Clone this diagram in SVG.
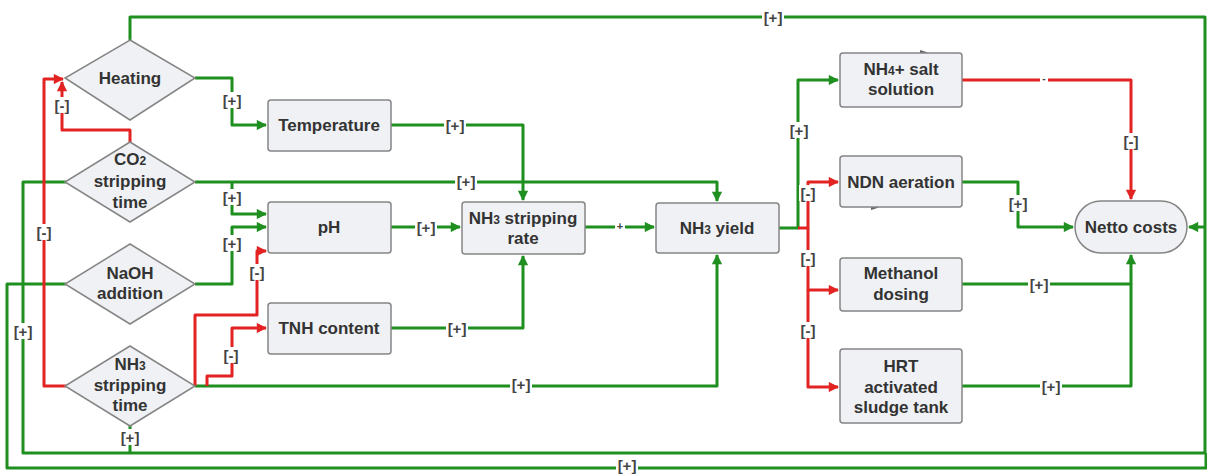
<svg xmlns="http://www.w3.org/2000/svg" width="1207" height="474" viewBox="0 0 1207 474">
<defs>
<style>
.box{fill:#eff1f4;stroke:#858585;stroke-width:1.5}
.t{font-family:"Liberation Sans",Arial,sans-serif;font-weight:bold;font-size:17px;fill:#333;text-anchor:middle}
.s{font-size:12px}
.g{fill:none;stroke:#1f8f1f;stroke-width:3;stroke-linejoin:round}
.r{fill:none;stroke:#e32222;stroke-width:3;stroke-linejoin:round}
.ga{marker-end:url(#ag)}
.ra{marker-end:url(#ar)}
.lb{fill:#fff}
.l{font-family:"Liberation Sans",Arial,sans-serif;font-weight:bold;font-size:15px;fill:#444;text-anchor:middle;dominant-baseline:central}
</style>
<marker id="ag" viewBox="0 0 10 10" refX="9" refY="5" markerWidth="4" markerHeight="3.4" orient="auto" markerUnits="strokeWidth"><path d="M0,0L10,5L0,10z" fill="#1f8f1f"/></marker>
<marker id="ar" viewBox="0 0 10 10" refX="9" refY="5" markerWidth="4" markerHeight="3.4" orient="auto" markerUnits="strokeWidth"><path d="M0,0L10,5L0,10z" fill="#e32222"/></marker>
</defs>
<rect width="1207" height="474" fill="#fff"/>

<g id="connectors">
<path class="g" d="M130,40V17H1205V227"/>
<path class="g ga" d="M1205,227H1189"/>
<path class="g" d="M66,182H23V453H1205V227"/>
<path class="g" d="M66,284H7V468H1206V453"/>
<path class="g" d="M130,426V453"/>
<path class="g ga" d="M195,78H232V125H266"/>
<path class="g ga" d="M391,125H523V200"/>
<path class="g ga" d="M195,182H717V201"/>
<path class="g ga" d="M232,182V214H266"/>
<path class="g ga" d="M195,284H232V227H266"/>
<path class="g ga" d="M391,227H460"/>
<path class="g ga" d="M391,328H523V256"/>
<path class="g ga" d="M585,227H654"/>
<path class="g ga" d="M195,386H717V255"/>
<path class="g ga" d="M779,228H798V80H838"/>
<path class="g ga" d="M962,182H1018V227H1073"/>
<path class="g ga" d="M962,284H1131V255"/>
<path class="g" d="M962,386H1131V284"/>
<path class="r ra" d="M130,142V130H62V82"/>
<path class="r ra" d="M66,386H44V79H63"/>
<path class="r ra" d="M195,386V315H257V251H266"/>
<path class="r ra" d="M207,386V376H232V328H266"/>
<path class="r ra" d="M798,228H808V182H838"/>
<path class="r ra" d="M808,228V290H838"/>
<path class="r ra" d="M808,290V387H838"/>
<path class="r ra" d="M962,80H1131V199"/>
<path d="M920,50l8,2.5l-8,2.5z" fill="#666"/>
<path d="M871,205l8,2.5l-8,2.5z" fill="#666"/>
</g>

<g id="labels">
<rect class="lb" x="762" y="9" width="22" height="16"/><text class="l" x="773" y="17">[+]</text>
<rect class="lb" x="12" y="323" width="22" height="16"/><text class="l" x="23" y="331">[+]</text>
<rect class="lb" x="616" y="460" width="22" height="16"/><text class="l" x="627" y="465">[+]</text>
<rect class="lb" x="119" y="429" width="22" height="16"/><text class="l" x="130" y="437">[+]</text>
<rect class="lb" x="221" y="92" width="22" height="16"/><text class="l" x="232" y="100">[+]</text>
<rect class="lb" x="444" y="117" width="22" height="16"/><text class="l" x="455" y="125">[+]</text>
<rect class="lb" x="455" y="173" width="22" height="16"/><text class="l" x="466" y="181">[+]</text>
<rect class="lb" x="221" y="189" width="22" height="16"/><text class="l" x="232" y="197">[+]</text>
<rect class="lb" x="221" y="235" width="22" height="16"/><text class="l" x="232" y="243">[+]</text>
<rect class="lb" x="415" y="219" width="22" height="16"/><text class="l" x="426" y="227">[+]</text>
<rect class="lb" x="446" y="320" width="22" height="16"/><text class="l" x="457" y="328">[+]</text>
<rect class="lb" x="615" y="221" width="10" height="12"/><text class="l" x="620" y="226" style="font-size:11px">+</text>
<rect class="lb" x="510" y="376" width="22" height="16"/><text class="l" x="521" y="384">[+]</text>
<rect class="lb" x="788" y="122" width="22" height="16"/><text class="l" x="799" y="130">[+]</text>
<rect class="lb" x="1007" y="195" width="22" height="16"/><text class="l" x="1018" y="203">[+]</text>
<rect class="lb" x="1028" y="276" width="22" height="16"/><text class="l" x="1039" y="284">[+]</text>
<rect class="lb" x="1040" y="378" width="22" height="16"/><text class="l" x="1051" y="386">[+]</text>
<rect class="lb" x="53" y="97" width="18" height="16"/><text class="l" x="62" y="105">[-]</text>
<rect class="lb" x="35" y="224" width="18" height="16"/><text class="l" x="44" y="232">[-]</text>
<rect class="lb" x="248" y="264" width="18" height="16"/><text class="l" x="257" y="272">[-]</text>
<rect class="lb" x="222" y="347" width="18" height="16"/><text class="l" x="231" y="355">[-]</text>
<rect class="lb" x="799" y="185" width="18" height="16"/><text class="l" x="808" y="193">[-]</text>
<rect class="lb" x="799" y="250" width="18" height="16"/><text class="l" x="808" y="258">[-]</text>
<rect class="lb" x="799" y="322" width="18" height="16"/><text class="l" x="808" y="330">[-]</text>
<rect class="lb" x="1122" y="133" width="18" height="16"/><text class="l" x="1131" y="141">[-]</text>
<rect class="lb" x="1040" y="74" width="8" height="10"/><text class="l" x="1044" y="78" style="font-size:10px">-</text>
</g>

<g id="heating"><polygon class="box" points="130,40 195,78 130,120 65,78"/><text class="t" x="130" y="84">Heating</text></g>
<g id="co2"><polygon class="box" points="130,142 195,182 130,222 65,182"/><text class="t" x="130" y="165">CO<tspan class="s">2</tspan></text><text class="t" x="130" y="187">stripping</text><text class="t" x="130" y="208">time</text></g>
<g id="naoh"><polygon class="box" points="130,244 195,284 130,324 65,284"/><text class="t" x="130" y="279">NaOH</text><text class="t" x="130" y="299">addition</text></g>
<g id="nh3time"><polygon class="box" points="130,346 195,386 130,426 65,386"/><text class="t" x="130" y="370">NH<tspan class="s">3</tspan></text><text class="t" x="130" y="391">stripping</text><text class="t" x="130" y="411">time</text></g>
<g id="temperature"><rect class="box" x="268" y="100" width="123" height="51" rx="3"/><text class="t" x="329" y="131">Temperature</text></g>
<g id="ph"><rect class="box" x="268" y="202" width="123" height="51" rx="3"/><text class="t" x="329" y="233">pH</text></g>
<g id="tnh"><rect class="box" x="268" y="303" width="123" height="51" rx="3"/><text class="t" x="329" y="334">TNH content</text></g>
<g id="rate"><rect class="box" x="462" y="202" width="123" height="52" rx="3"/><text class="t" x="523" y="224">NH<tspan class="s">3</tspan> stripping</text><text class="t" x="523" y="244">rate</text></g>
<g id="yield"><rect class="box" x="656" y="203" width="123" height="50" rx="3"/><text class="t" x="717" y="234">NH<tspan class="s">3</tspan> yield</text></g>
<g id="nh4"><rect class="box" x="840" y="53" width="122" height="54" rx="3"/><text class="t" x="901" y="75">NH<tspan class="s">4</tspan>+ salt</text><text class="t" x="901" y="95">solution</text></g>
<g id="ndn"><rect class="box" x="840" y="156" width="122" height="51" rx="3"/><text class="t" x="901" y="188">NDN aeration</text></g>
<g id="methanol"><rect class="box" x="840" y="258" width="122" height="53" rx="3"/><text class="t" x="901" y="279">Methanol</text><text class="t" x="901" y="300">dosing</text></g>
<g id="hrt"><rect class="box" x="840" y="349" width="122" height="74" rx="3"/><text class="t" x="901" y="372">HRT</text><text class="t" x="901" y="393">activated</text><text class="t" x="901" y="413">sludge tank</text></g>
<g id="netto"><rect class="box" x="1075" y="201" width="112" height="52" rx="26"/><text class="t" x="1131" y="233">Netto costs</text></g>
</svg>
